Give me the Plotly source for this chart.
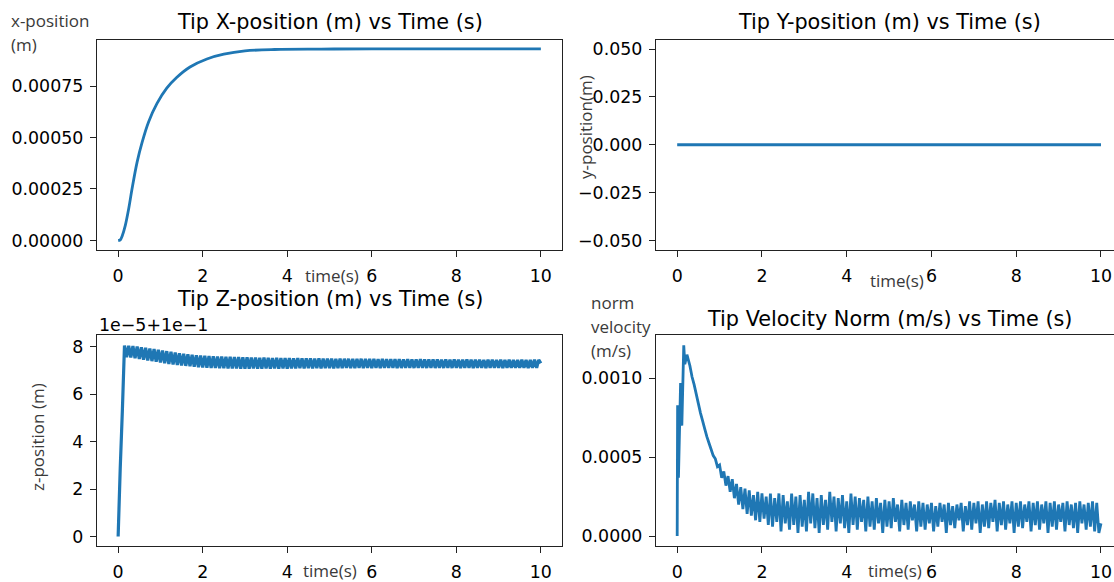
import plotly.graph_objects as go

# ---------------- data ----------------
# Tip X-position (m) (values in 1e-4 m)
t_x = [0.0, 0.05, 0.10, 0.17, 0.25, 0.33, 0.45, 0.57, 0.72, 0.92, 1.15, 1.39,
       1.70, 2.10, 2.50, 3.00, 3.70, 4.80, 6.00, 8.00, 10.0]
x_pos_e4 = [0.0, 0.03, 0.24, 0.73, 1.54, 2.52, 3.82, 4.79, 5.76, 6.66, 7.40, 7.93,
            8.43, 8.82, 9.05, 9.21, 9.28, 9.30, 9.31, 9.31, 9.31]

# Tip Y-position (m): constant zero
t_y = [0.0, 10.0]
y_pos = [0.0, 0.0]

# common sampling grid (s)
t_grid = [
    0.00, 0.05, 0.10, 0.15, 0.20, 0.25, 0.30, 0.35, 0.40, 0.45,
    0.50, 0.55, 0.60, 0.65, 0.70, 0.75, 0.80, 0.85, 0.90, 0.95,
    1.00, 1.05, 1.10, 1.15, 1.20, 1.25, 1.30, 1.35, 1.40, 1.45,
    1.50, 1.55, 1.60, 1.65, 1.70, 1.75, 1.80, 1.85, 1.90, 1.95,
    2.00, 2.05, 2.10, 2.15, 2.20, 2.25, 2.30, 2.35, 2.40, 2.45,
    2.50, 2.55, 2.60, 2.65, 2.70, 2.75, 2.80, 2.85, 2.90, 2.95,
    3.00, 3.05, 3.10, 3.15, 3.20, 3.25, 3.30, 3.35, 3.40, 3.45,
    3.50, 3.55, 3.60, 3.65, 3.70, 3.75, 3.80, 3.85, 3.90, 3.95,
    4.00, 4.05, 4.10, 4.15, 4.20, 4.25, 4.30, 4.35, 4.40, 4.45,
    4.50, 4.55, 4.60, 4.65, 4.70, 4.75, 4.80, 4.85, 4.90, 4.95,
    5.00, 5.05, 5.10, 5.15, 5.20, 5.25, 5.30, 5.35, 5.40, 5.45,
    5.50, 5.55, 5.60, 5.65, 5.70, 5.75, 5.80, 5.85, 5.90, 5.95,
    6.00, 6.05, 6.10, 6.15, 6.20, 6.25, 6.30, 6.35, 6.40, 6.45,
    6.50, 6.55, 6.60, 6.65, 6.70, 6.75, 6.80, 6.85, 6.90, 6.95,
    7.00, 7.05, 7.10, 7.15, 7.20, 7.25, 7.30, 7.35, 7.40, 7.45,
    7.50, 7.55, 7.60, 7.65, 7.70, 7.75, 7.80, 7.85, 7.90, 7.95,
    8.00, 8.05, 8.10, 8.15, 8.20, 8.25, 8.30, 8.35, 8.40, 8.45,
    8.50, 8.55, 8.60, 8.65, 8.70, 8.75, 8.80, 8.85, 8.90, 8.95,
    9.00, 9.05, 9.10, 9.15, 9.20, 9.25, 9.30, 9.35, 9.40, 9.45,
    9.50, 9.55, 9.60, 9.65, 9.70, 9.75, 9.80, 9.85, 9.90, 9.95,
    10.00,
]

# Tip Z-position, shown as offset from 0.1 m in units of 1e-5 m
z_offset_e5 = [
    0.00, 2.90, 5.30, 8.05, 7.55, 8.04, 7.54, 8.02, 7.51, 8.00,
    7.48, 7.97, 7.45, 7.95, 7.42, 7.92, 7.39, 7.90, 7.36, 7.87,
    7.33, 7.84, 7.30, 7.81, 7.27, 7.78, 7.25, 7.75, 7.23, 7.72,
    7.21, 7.70, 7.19, 7.68, 7.17, 7.66, 7.15, 7.64, 7.13, 7.62,
    7.12, 7.61, 7.11, 7.60, 7.10, 7.59, 7.10, 7.58, 7.09, 7.58,
    7.09, 7.57, 7.08, 7.57, 7.08, 7.56, 7.08, 7.56, 7.07, 7.55,
    7.07, 7.55, 7.07, 7.54, 7.08, 7.54, 7.07, 7.53, 7.07, 7.54,
    7.08, 7.53, 7.07, 7.52, 7.08, 7.53, 7.07, 7.52, 7.08, 7.52,
    7.07, 7.52, 7.08, 7.51, 7.08, 7.52, 7.09, 7.51, 7.08, 7.51,
    7.09, 7.51, 7.08, 7.50, 7.09, 7.51, 7.08, 7.50, 7.09, 7.50,
    7.09, 7.50, 7.08, 7.49, 7.09, 7.50, 7.09, 7.49, 7.10, 7.49,
    7.09, 7.49, 7.09, 7.48, 7.10, 7.49, 7.09, 7.48, 7.10, 7.48,
    7.09, 7.48, 7.10, 7.47, 7.09, 7.48, 7.10, 7.47, 7.10, 7.47,
    7.10, 7.47, 7.09, 7.47, 7.10, 7.46, 7.10, 7.47, 7.10, 7.46,
    7.10, 7.46, 7.11, 7.47, 7.10, 7.46, 7.10, 7.46, 7.11, 7.46,
    7.10, 7.46, 7.11, 7.45, 7.10, 7.46, 7.11, 7.45, 7.10, 7.46,
    7.11, 7.45, 7.10, 7.45, 7.11, 7.46, 7.11, 7.45, 7.10, 7.45,
    7.11, 7.45, 7.11, 7.44, 7.10, 7.45, 7.11, 7.45, 7.11, 7.44,
    7.11, 7.45, 7.10, 7.44, 7.11, 7.45, 7.11, 7.44, 7.11, 7.44,
    7.11, 7.45, 7.11, 7.44, 7.10, 7.44, 7.11, 7.45, 7.11, 7.44,
    7.30,
]

# Tip velocity norm, in 1e-3 m/s
t_v_early = [0.0, 0.01, 0.03, 0.08, 0.11, 0.155, 0.18, 0.23]
v_early_e3 = [0.0, 0.83, 0.37, 0.97, 0.70, 1.21, 1.09, 1.15]
v_rest_e3 = [
    1.08, 1.01, 0.96, 0.90,
    0.84, 0.78, 0.73, 0.68, 0.63, 0.59, 0.55, 0.51, 0.49, 0.44,
    0.45, 0.37, 0.41, 0.32, 0.38, 0.28, 0.36, 0.24, 0.33, 0.20,
    0.31, 0.17, 0.30, 0.14, 0.29, 0.13, 0.26, 0.10, 0.28, 0.09,
    0.27, 0.11, 0.25, 0.07, 0.27, 0.06, 0.24, 0.09, 0.27, 0.03,
    0.26, 0.08, 0.22, 0.04, 0.27, 0.07, 0.25, 0.02, 0.26, 0.06,
    0.23, 0.03, 0.28, 0.08, 0.27, 0.05, 0.24, 0.02, 0.26, 0.07,
    0.23, 0.04, 0.28, 0.09, 0.25, 0.03, 0.24, 0.08, 0.26, 0.05,
    0.22, 0.02, 0.27, 0.07, 0.25, 0.04, 0.24, 0.09, 0.23, 0.03,
    0.25, 0.06, 0.22, 0.04, 0.24, 0.08, 0.21, 0.02, 0.23, 0.06,
    0.22, 0.05, 0.24, 0.09, 0.20, 0.03, 0.23, 0.07, 0.21, 0.04,
    0.22, 0.10, 0.20, 0.03, 0.22, 0.06, 0.21, 0.04, 0.20, 0.08,
    0.21, 0.03, 0.19, 0.06, 0.21, 0.09, 0.20, 0.02, 0.21, 0.07,
    0.19, 0.05, 0.20, 0.10, 0.21, 0.03, 0.19, 0.07, 0.22, 0.04,
    0.21, 0.08, 0.22, 0.02, 0.20, 0.06, 0.22, 0.05, 0.21, 0.09,
    0.23, 0.03, 0.21, 0.07, 0.22, 0.04, 0.20, 0.08, 0.22, 0.02,
    0.21, 0.06, 0.22, 0.05, 0.20, 0.09, 0.22, 0.03, 0.21, 0.07,
    0.22, 0.04, 0.20, 0.08, 0.22, 0.02, 0.21, 0.06, 0.22, 0.04,
    0.20, 0.09, 0.21, 0.03, 0.22, 0.07, 0.20, 0.05, 0.21, 0.02,
    0.22, 0.08, 0.20, 0.04, 0.21, 0.06, 0.22, 0.03, 0.21, 0.02,
    0.08,
]

titles = ["Tip X-position (m) vs Time (s)", "Tip Y-position (m) vs Time (s)",
          "Tip Z-position (m) vs Time (s)", "Tip Velocity Norm (m/s) vs Time (s)"]
x_ticks = [0, 2, 4, 6, 8, 10]

# ---------------- figure ----------------
W, H = 1114, 582
BLUE = "#1f77b4"
TICKFONT = dict(family="DejaVu Sans", size=17.4, color="black")
TITLEFONT = dict(family="DejaVu Sans", size=20.8, color="black")
LABELFONT = dict(family="Open Sans", size=17, color="#3a3a3a")
AXC = "#222222"


def px(x):
    return x / W


def py(y):
    return 1 - y / H


t_v = t_v_early + t_grid[6:]
v_norm = [v * 1e-3 for v in v_early_e3 + v_rest_e3]
x_pos = [v * 1e-4 for v in x_pos_e4]

fig = go.Figure()
line = dict(color=BLUE, width=2.8, simplify=False)
fig.add_trace(go.Scatter(x=t_x, y=x_pos, mode="lines",
                         line=dict(color=BLUE, width=2.8, shape="spline"),
                         xaxis="x", yaxis="y"))
fig.add_trace(go.Scatter(x=t_y, y=y_pos, mode="lines", line=line, xaxis="x2", yaxis="y2"))
fig.add_trace(go.Scatter(x=t_grid, y=z_offset_e5, mode="lines",
                         line=dict(color=BLUE, width=3.2, simplify=False), xaxis="x3", yaxis="y3"))
fig.add_trace(go.Scatter(x=t_v, y=v_norm, mode="lines", line=line, xaxis="x4", yaxis="y4"))

L_DOM = [px(97), px(562)]
R_DOM = [px(656), 1.0]
T_DOM = [py(250), py(39.5)]
B_DOM = [py(545.5), py(335)]

common_x = dict(tickmode="array", tickvals=x_ticks, ticks="outside", ticklen=6, tickwidth=1.2,
                tickcolor=AXC, showline=True, linecolor=AXC, linewidth=1.3,
                showgrid=False, zeroline=False, tickfont=TICKFONT, mirror=True,
                ticklabelstandoff=4)
common_y = dict(ticks="outside", ticklen=6, tickwidth=1.2, tickcolor=AXC, showline=True,
                linecolor=AXC, linewidth=1.3, showgrid=False, zeroline=False, tickfont=TICKFONT,
                ticklabelstandoff=3)

fig.update_layout(
    width=W, height=H, margin=dict(l=0, r=0, t=0, b=0), autosize=False,
    paper_bgcolor="white", plot_bgcolor="white", showlegend=False,
    xaxis=dict(common_x, domain=L_DOM, range=[-0.5, 10.5], anchor="y"),
    yaxis=dict(common_y, domain=T_DOM, range=[-0.0000465, 0.0009765], anchor="x",
               tickvals=[0, 0.00025, 0.0005, 0.00075], tickformat=".5f", mirror=True),
    xaxis2=dict(common_x, domain=R_DOM, range=[-0.5, 10.307], anchor="y2"),
    yaxis2=dict(common_y, domain=T_DOM, range=[-0.055, 0.055], anchor="x2",
                tickvals=[-0.05, -0.025, 0, 0.025, 0.05], tickformat=".3f"),
    xaxis3=dict(common_x, domain=L_DOM, range=[-0.5, 10.5], anchor="y3"),
    yaxis3=dict(common_y, domain=B_DOM, range=[-0.38, 8.49], anchor="x3",
                tickvals=[0, 2, 4, 6, 8], tickformat="d", mirror=True),
    xaxis4=dict(common_x, domain=R_DOM, range=[-0.5, 10.307], anchor="y4"),
    yaxis4=dict(common_y, domain=B_DOM, range=[-0.00006, 0.001275], anchor="x4",
                tickvals=[0, 0.0005, 0.001], tickformat=".4f"),
)

ann = []
title_pos = [(329.5, 22), (889, 22), (329.5, 299), (889, 318.5)]
for txt, (x, y) in zip(titles, title_pos):
    ann.append(dict(text=txt, x=px(x), y=py(y), xref="paper", yref="paper", showarrow=False,
                    xanchor="center", yanchor="middle", font=TITLEFONT))
# offset text of z axis
ann.append(dict(text="1e\u22125+1e\u22121", x=px(97), y=py(325), xref="paper", yref="paper",
                showarrow=False, xanchor="left", yanchor="middle", font=TICKFONT))
# x-axis labels
for (x, y) in [(332, 275), (897, 280), (330, 570), (895, 570)]:
    ann.append(dict(text="time(s)", x=px(x), y=py(y), xref="paper", yref="paper", showarrow=False,
                    xanchor="center", yanchor="middle", font=LABELFONT))
# y-axis labels (multi-line ones placed line by line)
for txt, x, y in [("x-position", 9, 21), ("(m)", 9, 45),
                  ("norm", 589, 302), ("velocity", 589, 326), ("(m/s)", 589, 350)]:
    ann.append(dict(text=txt, x=px(x), y=py(y), xref="paper", yref="paper",
                    showarrow=False, xanchor="left", yanchor="middle", font=LABELFONT))
ann.append(dict(text="y-position(m)", x=px(585), y=py(127), xref="paper", yref="paper",
                showarrow=False, xanchor="center", yanchor="middle", textangle=-90, font=LABELFONT))
ann.append(dict(text="z-position (m)", x=px(37), y=py(437), xref="paper", yref="paper",
                showarrow=False, xanchor="center", yanchor="middle", textangle=-90, font=LABELFONT))
fig.update_layout(annotations=ann)

fig.write_html("out.html", config={"displayModeBar": False},
               post_script="document.body.style.margin='0px';")
